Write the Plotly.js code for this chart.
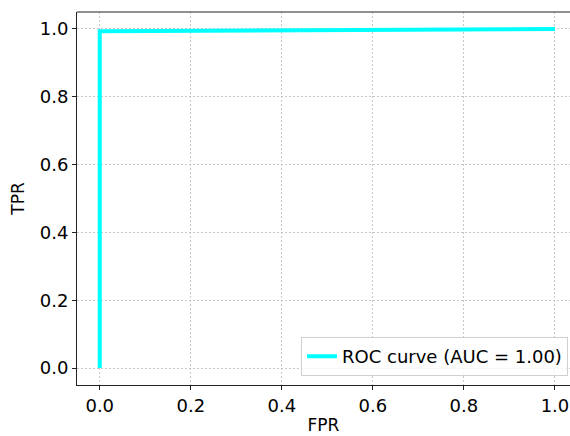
<!DOCTYPE html>
<html>
<head>
<meta charset="utf-8">
<script src="https://cdn.plot.ly/plotly-3.0.1.min.js"></script>
<style>html,body{margin:0;padding:0;background:#fff;}</style>
</head>
<body>
<div id="chart" style="width:570px;height:436px;"></div>
<script>
const fpr = [0.0, 0.0, 1.0];
const tpr = [0.0, 0.993, 1.0];
const seriesName = "ROC curve (AUC = 1.00)";
const xTicks = [0.0, 0.2, 0.4, 0.6, 0.8, 1.0];
const yTicks = [0.0, 0.2, 0.4, 0.6, 0.8, 1.0];
const xLabel = "FPR";
const yLabel = "TPR";

const font = "DejaVu Sans, sans-serif";
const trace = {
  x: fpr, y: tpr, name: seriesName, mode: "lines", type: "scatter",
  line: {color: "#00ffff", width: 4}, showlegend: true
};
const axisCommon = {
  showline: true, linecolor: "#222", linewidth: 1,
  ticks: "outside", ticklen: 4, tickcolor: "#222", tickwidth: 1,
  showgrid: true, gridcolor: "#b8b8b8", gridwidth: 0.8, griddash: "2px,2px",
  zeroline: false, tickfont: {family: font, size: 18, color: "#000"},
  tickformat: ".1f"
};
const layout = {
  width: 570, height: 436,
  margin: {l: 77, r: 0, t: 12, b: 51},
  paper_bgcolor: "#fff", plot_bgcolor: "#fff",
  font: {family: font},
  xaxis: Object.assign({}, axisCommon, {
    range: [-0.05, 1.033], tickvals: xTicks, mirror: false,
    title: {text: xLabel, font: {family: font, size: 17, color: "#000"}, standoff: 4}
  }),
  yaxis: Object.assign({}, axisCommon, {
    range: [-0.05, 1.05], tickvals: yTicks,
    title: {text: yLabel, font: {family: font, size: 17, color: "#000"}, standoff: 10}
  }),
  shapes: [{type: "line", xref: "paper", yref: "paper", x0: 0, x1: 1, y0: 1, y1: 1,
            line: {color: "#222", width: 1}}],
  legend: {
    x: 0.996, y: 0.024, xanchor: "right", yanchor: "bottom",
    bgcolor: "rgba(255,255,255,0.8)", bordercolor: "#d0d0d0", borderwidth: 1,
    font: {family: font, size: 18, color: "#000"}
  }
};
Plotly.newPlot("chart", [trace], layout, {displayModeBar: false, staticPlot: true});
</script>
</body>
</html>
